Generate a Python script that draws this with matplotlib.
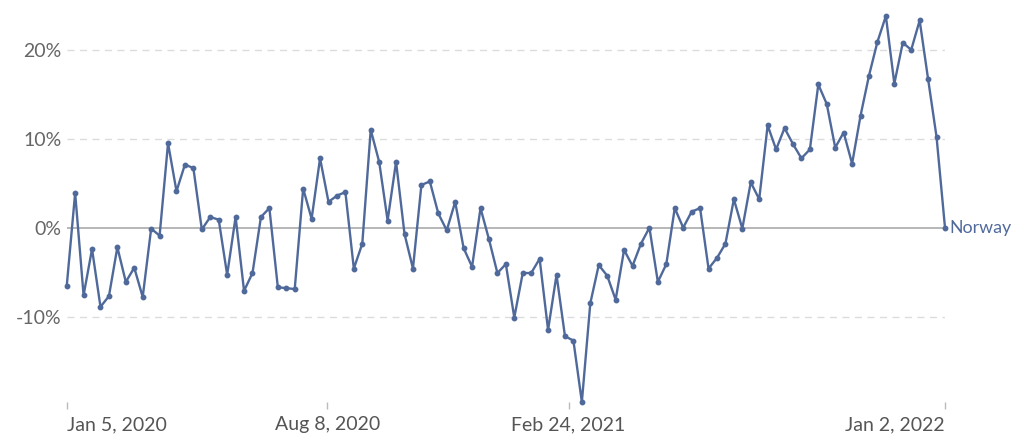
import pandas as pd
import matplotlib
matplotlib.use("Agg")
import matplotlib.pyplot as plt
from matplotlib.ticker import FuncFormatter

plt.rcParams['font.family'] = ['Lato', 'DejaVu Sans']

# weekly change (%) for Norway, indexed to the last week
weeks = pd.date_range("2020-01-05", periods=105, freq="7D")
norway = [
    -6.6, 3.9, -7.6, -2.4, -8.9, -7.7, -2.2, -6.1, -4.5, -7.8,
    -0.1, -0.9, 9.5, 4.1, 7.1, 6.7, -0.2, 1.2, 0.9, -5.3,
    1.2, -7.1, -5.1, 1.2, 2.2, -6.7, -6.8, -6.9, 4.4, 1.0,
    7.8, 2.9, 3.6, 4.0, -4.6, -1.8, 11.0, 7.4, 0.8, 7.4,
    -0.7, -4.6, 4.8, 5.2, 1.6, -0.3, 2.9, -2.3, -4.4, 2.2,
    -1.3, -5.1, -4.1, -10.1, -5.1, -5.1, -3.5, -11.5, -5.3, -12.2,
    -12.7, -19.6, -8.5, -4.2, -5.4, -8.1, -2.5, -4.3, -1.8, 0.0,
    -6.1, -4.1, 2.2, 0.0, 1.8, 2.2, -4.6, -3.4, -1.8, 3.2,
    -0.1, 5.1, 3.2, 11.5, 8.8, 11.2, 9.4, 7.8, 8.8, 16.1,
    13.9, 9.0, 10.7, 7.2, 12.6, 17.1, 20.9, 23.8, 16.2, 20.8,
    20.0, 23.3, 16.7, 10.2, 0.0,
]
y_ticks = [-10, 0, 10, 20]
x_ticks = ["2020-01-05", "2020-08-08", "2021-02-24", "2022-01-02"]
x_labels = ["Jan 5, 2020", "Aug 8, 2020", "Feb 24, 2021", "Jan 2, 2022"]

blue = "#50699b"

fig = plt.figure(figsize=(10.24, 4.48), dpi=100)
ax = fig.add_axes([66.7 / 1024, 1 - 402 / 448, (945 - 66.7) / 1024, (402 - 16) / 448])

ax.set_xlim(weeks[0], weeks[-1])
ax.set_ylim(min(norway), max(norway))

# grid lines only across the data range
for t in y_ticks:
    if t == 0:
        ax.axhline(0, color="#aaaaaa", lw=1.2, zorder=1)
    else:
        ax.axhline(t, color="#dcdcdc", lw=1.0, ls=(0, (5, 4)), zorder=1)

ax.plot(weeks, norway, color=blue, lw=1.7, marker="o", ms=3.2,
        zorder=3, clip_on=False)
ax.text(weeks[-1] + pd.Timedelta(days=4), norway[-1], "Norway",
        color=blue, fontsize=12.8, va="center", ha="left")

for s in ax.spines.values():
    s.set_visible(False)

ax.set_yticks(y_ticks)
ax.yaxis.set_major_formatter(FuncFormatter(lambda v, p: f"{v:.0f}%"))
ax.tick_params(axis="y", length=0, pad=3.5, labelsize=14, labelcolor="#666666")

ax.set_xticks(pd.to_datetime(x_ticks))
ax.set_xticklabels(x_labels)
ax.tick_params(axis="x", direction="out", length=5, width=1, color="#bbbbbb",
               pad=5, labelsize=14, labelcolor="#555555")
labs = ax.get_xticklabels()
labs[0].set_ha("left")
labs[-1].set_ha("right")

fig.savefig("out.png", dpi=100)
